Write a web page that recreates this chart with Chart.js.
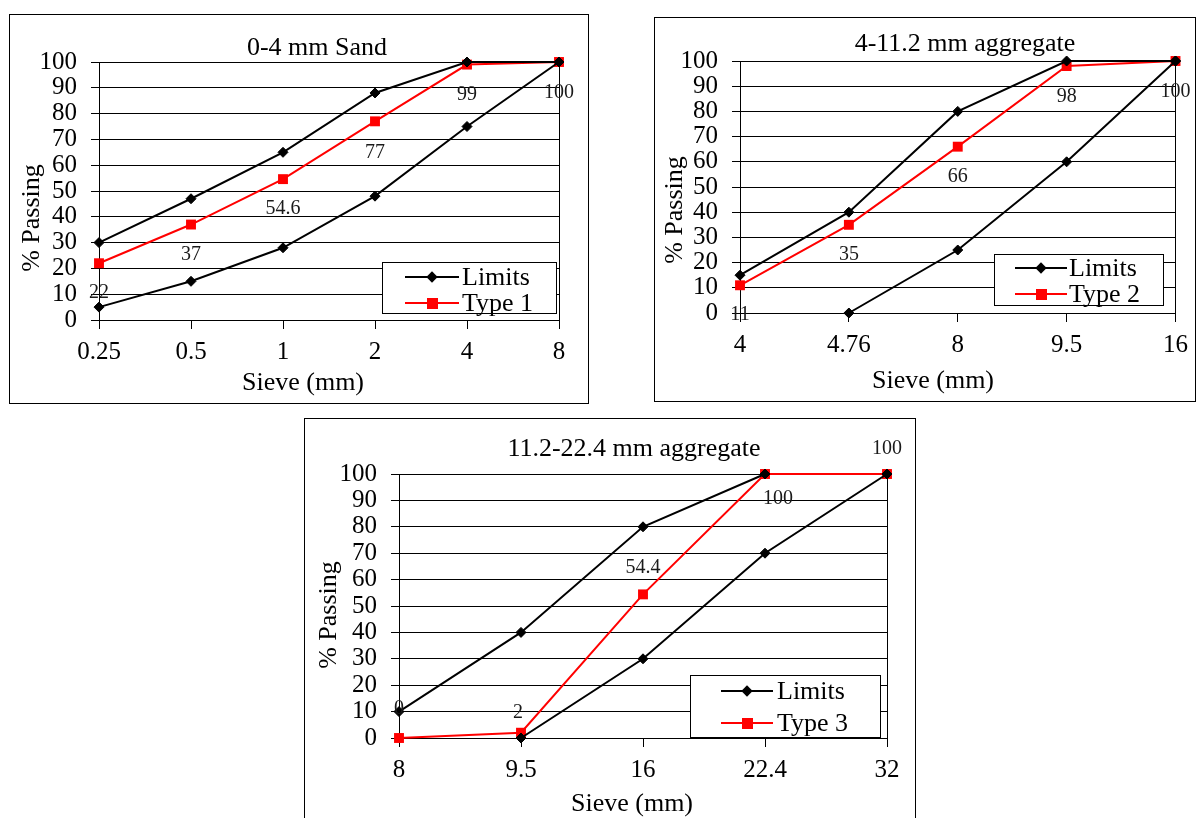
<!DOCTYPE html>
<html>
<head>
<meta charset="utf-8">
<script src="https://cdn.jsdelivr.net/npm/chart.js@4.4.0/dist/chart.umd.min.js"></script>
<style>
  html, body { margin: 0; padding: 0; background: #fff; }
  body { width: 1196px; height: 818px; position: relative; overflow: hidden;
         font-family: "Liberation Serif", "Times New Roman", serif; color: #000; }
  .panel { position: absolute; }
  .panel canvas { position: absolute; left: 0; top: 0; }
  .frame { position: absolute; left: 0; top: 0; right: 0; bottom: 0; border: 1px solid #000;
           box-sizing: border-box; pointer-events: none; }
  .txt { position: absolute; white-space: nowrap; line-height: 1; font-size: 26px;
         transform: translate(-50%, -50%); }
  .ytxt { transform: translate(-50%, -50%) rotate(-90deg); }
  .legend { position: absolute; border: 1px solid #000; background: #fff; box-sizing: border-box; }
  .legend .ln { position: absolute; height: 2px; }
  .legend .mk { position: absolute; }
  .legend .lt { position: absolute; white-space: nowrap; line-height: 1; font-size: 26px;
                transform: translateY(-50%); }
</style>
</head>
<body>
<script>
// ---------------- DATA ----------------
// Chart 1: 0-4 mm Sand
const sandSieves      = ['0.25', '0.5', '1', '2', '4', '8'];
const sandLimitUpper  = [30, 47, 65, 88, 100, 100];
const sandLimitLower  = [5, 15, 28, 48, 75, 100];
const sandType1       = [22, 37, 54.6, 77, 99, 100];

// Chart 2: 4-11.2 mm aggregate
const fineAggSieves     = ['4', '4.76', '8', '9.5', '16'];
const fineAggLimitUpper = [15, 40, 80, 100, 100];
const fineAggLimitLower = [null, 0, 25, 60, 100];
const fineAggType2      = [11, 35, 66, 98, 100];

// Chart 3: 11.2-22.4 mm aggregate
const coarseAggSieves     = ['8', '9.5', '16', '22.4', '32'];
const coarseAggLimitUpper = [10, 40, 80, 100, null];
const coarseAggLimitLower = [null, 0, 30, 70, 100];
const coarseAggType3      = [0, 2, 54.4, 100, 100];

// y-axis ticks
const passingMin = 0, passingMax = 100, passingStep = 10;

// ---------------- STYLE / LAYOUT (kept apart from data) ----------------
const FONT = '"Liberation Serif", "Times New Roman", serif';
const panels = [
  {
    box: [9, 14, 580, 390], area: [90, 48, 550, 306],
    title: '0-4 mm Sand', titleAt: [317, 47],
    xTitle: 'Sieve (mm)', xTitleAt: [303, 382],
    yTitle: '% Passing', yTitleAt: [31, 218],
    cats: sandSieves, upper: sandLimitUpper, lower: sandLimitLower,
    typeLabel: 'Type 1', type: sandType1,
    labelDy: [30, 30, 30, 31, 30, 31], labelDx: [0, 0, 0, 0, 0, 0],
    legend: { box: [382, 262, 175, 52], rows: [14, 40], line: [22, 76], text: 79 }
  },
  {
    box: [654, 17, 542, 385], area: [86, 44, 522, 296],
    title: '4-11.2 mm aggregate', titleAt: [965, 43],
    xTitle: 'Sieve (mm)', xTitleAt: [933, 380],
    yTitle: '% Passing', yTitleAt: [674, 210],
    cats: fineAggSieves, upper: fineAggLimitUpper, lower: fineAggLimitLower,
    typeLabel: 'Type 2', type: fineAggType2,
    labelDy: [29, 30, 30, 31, 31], labelDx: [0, 0, 0, 0, 0],
    legend: { box: [994, 254, 170, 52], rows: [13, 39], line: [20, 72], text: 74 }
  },
  {
    box: [304, 418, 612, 402], area: [95, 56, 583, 320],
    title: '11.2-22.4 mm aggregate', titleAt: [634, 448],
    xTitle: 'Sieve (mm)', xTitleAt: [632, 803],
    yTitle: '% Passing', yTitleAt: [328, 615],
    cats: coarseAggSieves, upper: coarseAggLimitUpper, lower: coarseAggLimitLower,
    typeLabel: 'Type 3', type: coarseAggType3,
    labelDy: [-29, -20, -27, 25, -25], labelDx: [0, -3, 0, 13, 0],
    legend: { box: [690, 675, 191, 63], rows: [15, 47], line: [30, 82], text: 86 }
  }
];

// value labels plugin (uses the library's own point positions)
const valueLabels = {
  id: 'valueLabels',
  afterDatasetsDraw(chart, args, opts) {
    if (opts.dataset == null) return;
    const meta = chart.getDatasetMeta(opts.dataset);
    const data = chart.data.datasets[opts.dataset].data;
    const ctx = chart.ctx;
    ctx.save();
    ctx.font = '20px ' + FONT;
    ctx.fillStyle = '#1a1a1a';
    ctx.textAlign = 'center';
    ctx.textBaseline = 'middle';
    meta.data.forEach((pt, j) => {
      if (data[j] == null) return;
      ctx.fillText(String(data[j]), pt.x + (opts.dx[j] || 0), pt.y + (opts.dy[j] || 0));
    });
    ctx.restore();
  }
};

function addText(cls, text, at) {
  const d = document.createElement('div');
  d.className = cls;
  d.textContent = text;
  d.style.left = at[0] + 'px';
  d.style.top = at[1] + 'px';
  document.body.appendChild(d);
}

function buildLegend(p, datasets) {
  const L = document.createElement('div');
  L.className = 'legend';
  const [lx, ly, lw, lh] = p.legend.box;
  Object.assign(L.style, { left: lx + 'px', top: ly + 'px', width: lw + 'px', height: lh + 'px' });
  const seen = new Set();
  const items = datasets.filter(ds => { if (seen.has(ds.label)) return false; seen.add(ds.label); return true; });
  items.forEach((ds, i) => {
    const cy = p.legend.rows[i];
    const ln = document.createElement('div');
    ln.className = 'ln';
    Object.assign(ln.style, { left: p.legend.line[0] + 'px', width: (p.legend.line[1] - p.legend.line[0]) + 'px',
                              top: (cy - 1) + 'px', background: ds.borderColor });
    L.appendChild(ln);
    const mk = document.createElement('div');
    mk.className = 'mk';
    const mx = (p.legend.line[0] + p.legend.line[1]) / 2;
    if (ds.pointStyle === 'rectRot') {
      Object.assign(mk.style, { width: '8px', height: '8px', left: (mx - 4) + 'px', top: (cy - 4) + 'px',
                                background: ds.pointBackgroundColor, transform: 'rotate(45deg)' });
    } else {
      Object.assign(mk.style, { width: '11px', height: '11px', left: (mx - 5.5) + 'px', top: (cy - 5.5) + 'px',
                                background: ds.pointBackgroundColor });
    }
    L.appendChild(mk);
    const t = document.createElement('div');
    t.className = 'lt';
    t.textContent = ds.label;
    Object.assign(t.style, { left: p.legend.text + 'px', top: cy + 'px' });
    L.appendChild(t);
  });
  document.body.appendChild(L);
}

function limitDataset(data) {
  return {
    label: 'Limits', data, borderColor: '#000', backgroundColor: '#000',
    borderWidth: 2, pointStyle: 'rectRot', pointRadius: 5, pointHoverRadius: 5,
    pointBackgroundColor: '#000', pointBorderColor: '#000', pointBorderWidth: 1,
    tension: 0, spanGaps: false, clip: false
  };
}

panels.forEach(p => {
  const [bx, by, bw, bh] = p.box;
  const [al, at, ar, ab] = p.area;
  const panel = document.createElement('div');
  panel.className = 'panel';
  Object.assign(panel.style, { left: bx + 'px', top: by + 'px', width: bw + 'px', height: bh + 'px' });
  const cv = document.createElement('canvas');
  cv.width = bw; cv.height = bh;
  cv.style.width = bw + 'px'; cv.style.height = bh + 'px';
  panel.appendChild(cv);
  const fr = document.createElement('div');
  fr.className = 'frame';
  panel.appendChild(fr);
  document.body.appendChild(panel);

  const datasets = [
    limitDataset(p.upper),
    limitDataset(p.lower),
    {
      label: p.typeLabel, data: p.type, borderColor: '#ff0000', backgroundColor: '#ff0000',
      borderWidth: 2, pointStyle: 'rect', pointRadius: 7, pointHoverRadius: 7,
      pointBackgroundColor: '#ff0000', pointBorderColor: '#ff0000', pointBorderWidth: 0,
      tension: 0, clip: false
    }
  ];

  new Chart(cv, {
    type: 'line',
    data: { labels: p.cats, datasets },
    plugins: [valueLabels],
    options: {
      responsive: false, animation: false, events: [],
      layout: { padding: { left: 0, right: 0, top: at, bottom: 0 } },
      plugins: {
        legend: { display: false }, tooltip: { enabled: false }, title: { display: false },
        valueLabels: { dataset: 2, dy: p.labelDy, dx: p.labelDx }
      },
      scales: {
        x: {
          type: 'category', offset: false,
          grid: { drawOnChartArea: false, drawTicks: true, tickLength: 9, color: '#000', lineWidth: 1 },
          border: { display: true, color: '#000', width: 1 },
          ticks: { color: '#000', font: { family: FONT, size: 25 }, padding: 8, maxRotation: 0, autoSkip: false },
          afterFit(s) { s.height = bh - ab; }
        },
        y: {
          position: 'left', min: passingMin, max: passingMax,
          grid: { color: '#000', lineWidth: 1, tickLength: 8, drawTicks: true },
          border: { display: true, color: '#000', width: 1 },
          ticks: { stepSize: passingStep, autoSkip: false, color: '#000',
                   font: { family: FONT, size: 25, lineHeight: 1 }, padding: 14 },
          afterFit(s) { s.width = al; }
        },
        yRight: {
          position: 'right', min: passingMin, max: passingMax,
          grid: { display: false, drawTicks: false },
          border: { display: true, color: '#000', width: 1 },
          ticks: { display: false },
          afterFit(s) { s.width = bw - ar; }
        }
      }
    }
  });

  addText('txt', p.title, p.titleAt);
  addText('txt', p.xTitle, p.xTitleAt);
  addText('txt ytxt', p.yTitle, p.yTitleAt);
  buildLegend(p, datasets);
});
</script>
</body>
</html>
